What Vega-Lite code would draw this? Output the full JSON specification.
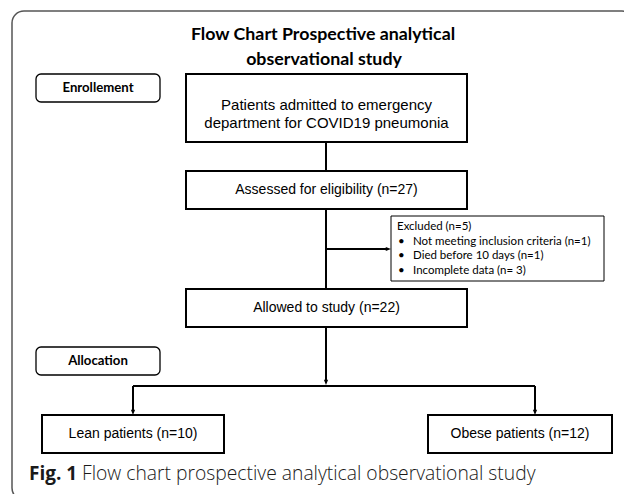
{
  "$schema": "https://vega.github.io/schema/vega-lite/v6.json",
  "width": 624,
  "height": 494,
  "autosize": "none",
  "padding": 0,
  "background": "white",
  "config": {"view": {"stroke": null}},
  "encoding": {
    "x": {"field": "x", "type": "quantitative", "scale": {"domain": [0, 624], "nice": false, "zero": false}, "axis": null},
    "y": {"field": "y", "type": "quantitative", "scale": {"domain": [0, 494], "nice": false, "zero": false, "reverse": true}, "axis": null}
  },
  "layer": [
    {
      "data": {"values": [{"name": "frame", "x": 12, "x2": 634, "y": 11, "y2": 500}]},
      "mark": {"type": "rect", "fill": null, "stroke": "#555555", "strokeWidth": 1.5, "cornerRadius": 12, "clip": true},
      "encoding": {"x2": {"field": "x2"}, "y2": {"field": "y2"}}
    },
    {
      "data": {"values": [
        {"name": "Enrollement", "x": 36, "x2": 160, "y": 74, "y2": 102},
        {"name": "Allocation", "x": 36, "x2": 160, "y": 347, "y2": 375}
      ]},
      "mark": {"type": "rect", "fill": "white", "stroke": "black", "strokeWidth": 1.3, "cornerRadius": 5},
      "encoding": {"x2": {"field": "x2"}, "y2": {"field": "y2"}}
    },
    {
      "data": {"values": [
        {"name": "Patients", "x": 186, "x2": 467, "y": 74, "y2": 142},
        {"name": "Assessed", "x": 186, "x2": 467, "y": 171, "y2": 209},
        {"name": "Allowed", "x": 186, "x2": 467, "y": 289, "y2": 327},
        {"name": "Lean", "x": 42, "x2": 224, "y": 415, "y2": 453},
        {"name": "Obese", "x": 428, "x2": 612, "y": 415, "y2": 453}
      ]},
      "mark": {"type": "rect", "fill": "white", "stroke": "black", "strokeWidth": 2},
      "encoding": {"x2": {"field": "x2"}, "y2": {"field": "y2"}}
    },
    {
      "data": {"values": [{"name": "Excluded", "x": 391, "x2": 604, "y": 216, "y2": 281}]},
      "mark": {"type": "rect", "fill": "white", "stroke": "black", "strokeWidth": 1},
      "encoding": {"x2": {"field": "x2"}, "y2": {"field": "y2"}}
    },
    {
      "data": {"values": [
        {"x": 326, "y": 142, "x2": 326, "y2": 171},
        {"x": 326, "y": 209, "x2": 326, "y2": 289},
        {"x": 326, "y": 249, "x2": 386, "y2": 249},
        {"x": 326, "y": 327, "x2": 326, "y2": 380},
        {"x": 133, "y": 386, "x2": 535, "y2": 386},
        {"x": 133, "y": 386, "x2": 133, "y2": 410},
        {"x": 535, "y": 386, "x2": 535, "y2": 410}
      ]},
      "mark": {"type": "rule", "color": "black", "strokeWidth": 2},
      "encoding": {"x2": {"field": "x2"}, "y2": {"field": "y2"}}
    },
    {
      "data": {"values": [
        {"x": 326, "y": 385},
        {"x": 133, "y": 415},
        {"x": 535, "y": 415}
      ]},
      "mark": {"type": "point", "shape": "M-0.4,-1L0.4,-1L0,0Z", "filled": true, "color": "black", "opacity": 1, "size": 110}
    },
    {
      "data": {"values": [{"x": 391, "y": 249}]},
      "mark": {"type": "point", "shape": "M-1,-0.4L-1,0.4L0,0Z", "filled": true, "color": "black", "opacity": 1, "size": 110}
    },
    {
      "data": {"values": [
        {"x": 323, "y": 35, "text": "Flow Chart Prospective analytical"},
        {"x": 324, "y": 60, "text": "observational study"}
      ]},
      "mark": {"type": "text", "font": "Lato", "fontWeight": "bold", "fontSize": 17.8, "align": "center", "baseline": "middle", "color": "black"},
      "encoding": {"text": {"field": "text"}}
    },
    {
      "data": {"values": [
        {"x": 98, "y": 88, "text": "Enrollement"},
        {"x": 98, "y": 361, "text": "Allocation"}
      ]},
      "mark": {"type": "text", "font": "Lato", "fontWeight": "bold", "fontSize": 13.2, "align": "center", "baseline": "middle", "color": "black"},
      "encoding": {"text": {"field": "text"}}
    },
    {
      "data": {"values": [
        {"x": 326.5, "y": 105, "text": "Patients admitted to emergency"},
        {"x": 326.5, "y": 123, "text": "department for COVID19 pneumonia"}
      ]},
      "mark": {"type": "text", "font": "Arial, Liberation Sans, sans-serif", "fontSize": 15, "align": "center", "baseline": "middle", "color": "black"},
      "encoding": {"text": {"field": "text"}}
    },
    {
      "data": {"values": [
        {"x": 326.5, "y": 190, "text": "Assessed for eligibility (n=27)"},
        {"x": 326.5, "y": 308, "text": "Allowed to study (n=22)"},
        {"x": 133, "y": 434, "text": "Lean patients (n=10)"},
        {"x": 520, "y": 434, "text": "Obese patients (n=12)"}
      ]},
      "mark": {"type": "text", "font": "Arial, Liberation Sans, sans-serif", "fontSize": 14, "align": "center", "baseline": "middle", "color": "black"},
      "encoding": {"text": {"field": "text"}}
    },
    {
      "data": {"values": [
        {"x": 397, "y": 227, "text": "Excluded (n=5)"},
        {"x": 398, "y": 242, "text": "•"},
        {"x": 413, "y": 242, "text": "Not meeting inclusion criteria (n=1)"},
        {"x": 398, "y": 256, "text": "•"},
        {"x": 413, "y": 256, "text": "Died before 10 days (n=1)"},
        {"x": 398, "y": 271, "text": "•"},
        {"x": 413, "y": 271, "text": "Incomplete data (n= 3)"}
      ]},
      "mark": {"type": "text", "font": "Lato", "fontSize": 11.5, "align": "left", "baseline": "middle", "color": "black"},
      "encoding": {"text": {"field": "text"}}
    },
    {
      "data": {"values": [{"x": 29, "y": 474, "text": "Fig. 1"}]},
      "mark": {"type": "text", "font": "Open Sans", "fontWeight": "bold", "fontSize": 19, "align": "left", "baseline": "middle", "color": "#1a1a1a"},
      "encoding": {"text": {"field": "text"}}
    },
    {
      "data": {"values": [{"x": 82, "y": 474, "text": "Flow chart prospective analytical observational study"}]},
      "mark": {"type": "text", "font": "Open Sans", "fontSize": 19.3, "fontWeight": 300, "align": "left", "baseline": "middle", "color": "#1a1a1a"},
      "encoding": {"text": {"field": "text"}}
    }
  ]
}
